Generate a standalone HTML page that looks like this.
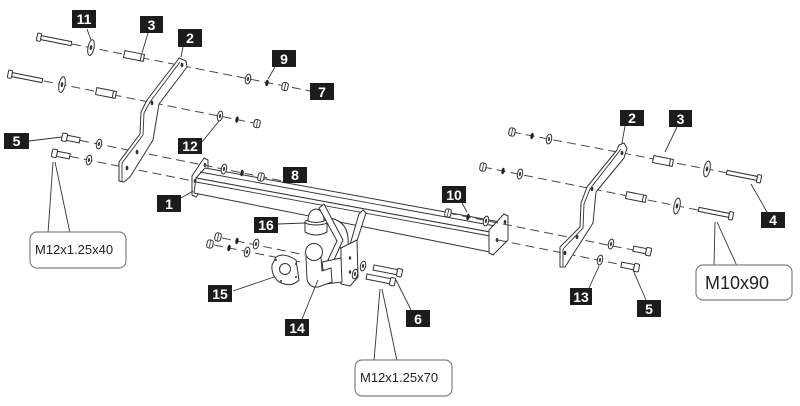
<!DOCTYPE html>
<html><head><meta charset="utf-8"><style>
html,body{margin:0;padding:0;background:#fff;}
svg{display:block;}
.lb rect{fill:#1c1c1c;}
.lb text{fill:#fff;font-family:"Liberation Sans",Arial,sans-serif;font-weight:bold;font-size:14px;text-anchor:middle;}
.dl{stroke:#4a4a4a;stroke-width:1;stroke-dasharray:9 5;fill:none;}
.ld{stroke:#333;stroke-width:0.9;fill:none;}
.pt{fill:#fff;stroke:#333;stroke-width:1;stroke-linejoin:round;}
.co{fill:#fff;stroke:#808080;stroke-width:1.2;}
.ct{fill:#222;font-family:"Liberation Sans",Arial,sans-serif;}
</style></head><body>
<svg width="800" height="406" viewBox="0 0 800 406" xmlns="http://www.w3.org/2000/svg">
<defs>
 <g id="nut"><rect x="-3" y="-4" width="6" height="8" rx="2.2" fill="#fff" stroke="#333" stroke-width="1"/><line x1="0" y1="-3.3" x2="0" y2="3.3" stroke="#333" stroke-width="0.8"/></g>
 <g id="lock"><ellipse rx="1.6" ry="3.3" fill="#222"/></g>
 <g id="wash"><ellipse rx="2.6" ry="5" fill="#fff" stroke="#333"/><ellipse rx="1" ry="2" fill="#333"/></g>
 <g id="bigwash"><ellipse rx="3" ry="8" fill="#fff" stroke="#333"/><ellipse rx="1.2" ry="2.5" fill="#333"/></g>
 <g id="spacer"><rect x="-10" y="-3.5" width="20" height="7" fill="#fff" stroke="#333"/><line x1="7" y1="-3.5" x2="7" y2="3.5" stroke="#333"/></g>
 <g id="boltlong"><rect x="3" y="-2" width="31" height="4" fill="#fff" stroke="#333"/><rect x="-1" y="-4" width="4" height="8" rx="1" fill="#fff" stroke="#333"/></g>
 <g id="boltshort"><rect x="4" y="-2.6" width="13" height="5.2" fill="#fff" stroke="#333"/><rect x="-1" y="-4" width="5" height="8" rx="1" fill="#fff" stroke="#333"/></g>
 <g id="boltsix"><rect x="4" y="-2.6" width="24" height="5.2" fill="#fff" stroke="#333"/><rect x="-1" y="-4" width="5" height="8" rx="1" fill="#fff" stroke="#333"/></g>
</defs>

<!-- ===== Beam ===== -->
<polygon class="pt" points="192,195 192,176 204,158 208,160 208,181 196,197"/>
<polygon class="pt" points="205,168 500,222 490,232 196,178"/>
<polygon class="pt" points="196,178 490,232 490,252 194,193"/>
<line class="ld" x1="196" y1="182" x2="490" y2="236"/>
<line class="ld" x1="200" y1="172" x2="495" y2="226"/>
<polygon class="pt" points="489,253 489,230 504,214 508,216 508,240 493,255"/>
<ellipse cx="505" cy="222" rx="1.3" ry="2" fill="#333"/>
<ellipse cx="497" cy="240" rx="1.3" ry="2" fill="#333"/>
<ellipse cx="205" cy="165" rx="1.3" ry="2" fill="#333"/>
<ellipse cx="195" cy="181" rx="1.3" ry="2" fill="#333"/>

<!-- ===== Dashed axes ===== -->
<line class="dl" x1="72" y1="44" x2="310" y2="91"/>
<line class="dl" x1="44" y1="81" x2="256" y2="123.4"/>
<line class="dl" x1="80" y1="140.4" x2="283" y2="181"/>
<line class="dl" x1="70" y1="156.4" x2="196" y2="181.6"/>
<line class="dl" x1="512" y1="132" x2="728" y2="173"/>
<line class="dl" x1="483" y1="167" x2="700" y2="210.4"/>
<line class="dl" x1="448" y1="213" x2="633" y2="250"/>
<line class="dl" x1="498" y1="240" x2="623" y2="265"/>
<line class="dl" x1="222" y1="238" x2="305" y2="255"/>
<line class="dl" x1="214" y1="245" x2="300" y2="262"/>

<!-- ===== Left bracket 2 ===== -->
<polygon class="pt" points="179,58 186,61 187,67 159,104 153,140 130,177 124,182 119,181 119,162 140,134 141,112 147,100 177,61"/>
<polyline class="ld" points="180,62 150,102 144,113 143,135 122,163 122,181"/>
<ellipse cx="182" cy="65" rx="1.4" ry="2.2" fill="#333"/>
<ellipse cx="152" cy="103" rx="1.4" ry="2.2" fill="#333"/>
<ellipse cx="137" cy="152" rx="1.4" ry="2.2" fill="#333"/>
<ellipse cx="127" cy="168" rx="1.4" ry="2.2" fill="#333"/>

<!-- ===== Right bracket 2 ===== -->
<polygon class="pt" points="619,145 624,143 627,148 624,158 596,192 593,223 565,267 560,267 560,247 580,227 581,203 587,187 617,150"/>
<polyline class="ld" points="621,149 590,189 584,204 583,228 563,249 563,266"/>
<ellipse cx="622" cy="153" rx="1.4" ry="2.2" fill="#333"/>
<ellipse cx="592" cy="189" rx="1.4" ry="2.2" fill="#333"/>
<ellipse cx="577" cy="237" rx="1.4" ry="2.2" fill="#333"/>
<ellipse cx="565" cy="253" rx="1.4" ry="2.2" fill="#333"/>

<!-- ===== Left hardware ===== -->
<use href="#boltlong" transform="translate(38,37) rotate(11.3)"/>
<use href="#bigwash" transform="translate(91,47.6) rotate(11.3)"/>
<use href="#spacer" transform="translate(134,56) rotate(11.3)"/>
<use href="#wash" transform="translate(248,79) rotate(11.3)"/>
<use href="#lock" transform="translate(267,83) rotate(11.3)"/>
<use href="#nut" transform="translate(285,86.5) rotate(11.3)"/>

<use href="#boltlong" transform="translate(9,74) rotate(11.3)"/>
<use href="#bigwash" transform="translate(62,84.6) rotate(11.3)"/>
<use href="#spacer" transform="translate(106,93) rotate(11.3)"/>
<use href="#wash" transform="translate(220,116) rotate(11.3)"/>
<use href="#lock" transform="translate(237,119.6) rotate(11.3)"/>
<use href="#nut" transform="translate(257,123.6) rotate(11.3)"/>

<use href="#boltshort" transform="translate(63,137) rotate(11.3)"/>
<use href="#wash" transform="translate(99,144) rotate(11.3)"/>
<use href="#wash" transform="translate(224,169) rotate(11.3)"/>
<use href="#lock" transform="translate(242,173) rotate(11.3)"/>
<use href="#nut" transform="translate(261,177) rotate(11.3)"/>

<use href="#boltshort" transform="translate(53,153) rotate(11.3)"/>
<use href="#wash" transform="translate(89,160) rotate(11.3)"/>

<!-- ===== Right hardware ===== -->
<use href="#nut" transform="translate(512,132) rotate(11.3)"/>
<use href="#lock" transform="translate(532,136) rotate(11.3)"/>
<use href="#wash" transform="translate(549,139) rotate(11.3)"/>
<use href="#spacer" transform="translate(663,161) rotate(11.3)"/>
<use href="#bigwash" transform="translate(707,169) rotate(11.3)"/>
<use href="#boltlong" transform="translate(760,179) rotate(11.3) scale(-1,1)"/>

<use href="#nut" transform="translate(483,167) rotate(11.3)"/>
<use href="#lock" transform="translate(503,171) rotate(11.3)"/>
<use href="#wash" transform="translate(520,174) rotate(11.3)"/>
<use href="#spacer" transform="translate(636,197) rotate(11.3)"/>
<use href="#bigwash" transform="translate(677,206) rotate(11.3)"/>
<use href="#boltlong" transform="translate(732,216) rotate(11.3) scale(-1,1)"/>

<use href="#nut" transform="translate(448,213) rotate(11.3)"/>
<use href="#lock" transform="translate(468,217) rotate(11.3)"/>
<use href="#wash" transform="translate(486,221) rotate(11.3)"/>

<use href="#wash" transform="translate(611,244) rotate(11.3)"/>
<use href="#boltshort" transform="translate(650,252) rotate(11.3) scale(-1,1)"/>
<use href="#wash" transform="translate(600,260) rotate(11.3)"/>
<use href="#boltshort" transform="translate(638,268) rotate(11.3) scale(-1,1)"/>

<!-- ===== Center: socket hardware ===== -->
<use href="#nut" transform="translate(218,237) rotate(11.3)"/>
<use href="#lock" transform="translate(237,241) rotate(11.3)"/>
<use href="#wash" transform="translate(256,244) rotate(11.3)"/>
<use href="#nut" transform="translate(210,244) rotate(11.3)"/>
<use href="#lock" transform="translate(229,248) rotate(11.3)"/>
<use href="#wash" transform="translate(247,252) rotate(11.3)"/>

<!-- ===== Center assembly ===== -->
<path class="pt" d="M330,218 Q350,222 348,245 L341,249 L337,241 Z"/>
<path class="pt" d="M305,222 L305,232 Q316,238 327,232 L327,222 Z"/>
<ellipse class="pt" cx="316" cy="222" rx="11" ry="3"/>
<path class="pt" d="M308,221 Q308,210 316,209 Q324,210 324,221 Q316,224 308,221 Z"/>
<polygon class="pt" points="319,208 324,204 343,240 333,262 328,260 337,241"/>
<polygon class="pt" points="359,214 363,210 366,213 354,250 349,248"/>
<polygon class="pt" points="341,248 357,240 358,277 350,286 341,284"/>
<ellipse cx="350" cy="258" rx="1.2" ry="1.8" fill="#333"/>
<ellipse cx="350" cy="272" rx="1.2" ry="1.8" fill="#333"/>
<polygon class="pt" points="322,262 341,258 342,282 325,284"/>
<path class="pt" d="M276,257 Q284,252 296,260 L299,280 Q292,288 279,282 Q271,275 272,265 Z"/>
<circle class="pt" cx="285" cy="269" r="5.5"/>
<circle cx="296" cy="264" r="1" fill="#333"/>
<circle cx="296" cy="277" r="1" fill="#333"/>
<circle cx="281" cy="281" r="1" fill="#333"/>
<circle cx="276" cy="260" r="1" fill="#333"/>
<path class="pt" d="M306,257 L307,279 Q309,288 318,287 L332,282 L331,268 L322,271 L321,257 Z"/>
<circle class="pt" cx="314" cy="252" r="8.5"/>

<use href="#wash" transform="translate(363,266) rotate(11.3)"/>
<use href="#wash" transform="translate(355,274) rotate(11.3)"/>
<use href="#boltsix" transform="translate(401,273) rotate(11.3) scale(-1,1)"/>
<use href="#boltsix" transform="translate(394,282) rotate(11.3) scale(-1,1)"/>

<!-- ===== Leader lines ===== -->
<line class="ld" x1="87" y1="29" x2="91" y2="40"/>
<line class="ld" x1="148" y1="33" x2="142" y2="53"/>
<line class="ld" x1="183" y1="47" x2="181" y2="57"/>
<line class="ld" x1="275" y1="67" x2="268" y2="79"/>
<line class="ld" x1="202" y1="142" x2="219" y2="121"/>
<line class="ld" x1="29" y1="141" x2="62" y2="137"/>
<line class="ld" x1="181" y1="198" x2="193" y2="191"/>
<line class="ld" x1="278" y1="224" x2="305" y2="223"/>
<line class="ld" x1="233" y1="291" x2="274" y2="277"/>
<line class="ld" x1="302" y1="319" x2="318" y2="280"/>
<line class="ld" x1="411" y1="310" x2="396" y2="280"/>
<line class="ld" x1="462" y1="203" x2="467" y2="212"/>
<line class="ld" x1="625" y1="126" x2="622" y2="143"/>
<line class="ld" x1="677" y1="127" x2="665" y2="152"/>
<line class="ld" x1="767" y1="212" x2="751" y2="184"/>
<line class="ld" x1="589" y1="288" x2="599" y2="266"/>
<line class="ld" x1="646" y1="300" x2="633" y2="270"/>

<!-- callout leaders -->
<line class="ld" x1="53" y1="162" x2="48" y2="233"/>
<line class="ld" x1="55" y1="162" x2="70" y2="233"/>
<line class="ld" x1="380" y1="289" x2="374" y2="361"/>
<line class="ld" x1="382" y1="289" x2="397" y2="361"/>
<line class="ld" x1="715" y1="222" x2="714" y2="266"/>
<line class="ld" x1="717" y1="222" x2="737" y2="266"/>

<!-- ===== Callout boxes ===== -->
<rect class="co" x="30" y="232" width="96" height="36" rx="7"/>
<text class="ct" x="35" y="254" font-size="13">M12x1.25x40</text>
<rect class="co" x="355" y="360" width="97" height="36" rx="7"/>
<text class="ct" x="360" y="382" font-size="13">M12x1.25x70</text>
<rect class="co" x="696" y="265" width="96" height="35" rx="7"/>
<text class="ct" x="705" y="289" font-size="18">M10x90</text>

<!-- ===== Label boxes ===== -->
<g class="lb">
<rect x="72" y="10" width="24" height="18"/><text x="84" y="24">11</text>
<rect x="140" y="16" width="23" height="17"/><text x="151.5" y="30">3</text>
<rect x="178" y="29" width="24" height="18"/><text x="190" y="43">2</text>
<rect x="272" y="50" width="24" height="17"/><text x="284" y="64">9</text>
<rect x="310" y="83" width="24" height="17"/><text x="322" y="97">7</text>
<rect x="178" y="138" width="24" height="16"/><text x="190" y="151">12</text>
<rect x="4" y="133" width="25" height="16"/><text x="16.5" y="146">5</text>
<rect x="283" y="167" width="24" height="16"/><text x="295" y="180">8</text>
<rect x="157" y="195" width="24" height="17"/><text x="169" y="209">1</text>
<rect x="254" y="217" width="24" height="16"/><text x="266" y="230">16</text>
<rect x="208" y="285" width="24" height="17"/><text x="220" y="299">15</text>
<rect x="285" y="319" width="24" height="17"/><text x="297" y="333">14</text>
<rect x="406" y="310" width="24" height="17"/><text x="418" y="324">6</text>
<rect x="442" y="186" width="24" height="17"/><text x="454" y="200">10</text>
<rect x="620" y="110" width="24" height="16"/><text x="632" y="123">2</text>
<rect x="669" y="110" width="23" height="17"/><text x="680.5" y="124">3</text>
<rect x="761" y="212" width="24" height="16"/><text x="773" y="225">4</text>
<rect x="570" y="288" width="22" height="17"/><text x="581" y="302">13</text>
<rect x="637" y="300" width="24" height="17"/><text x="649" y="314">5</text>
</g>
</svg>
</body></html>
